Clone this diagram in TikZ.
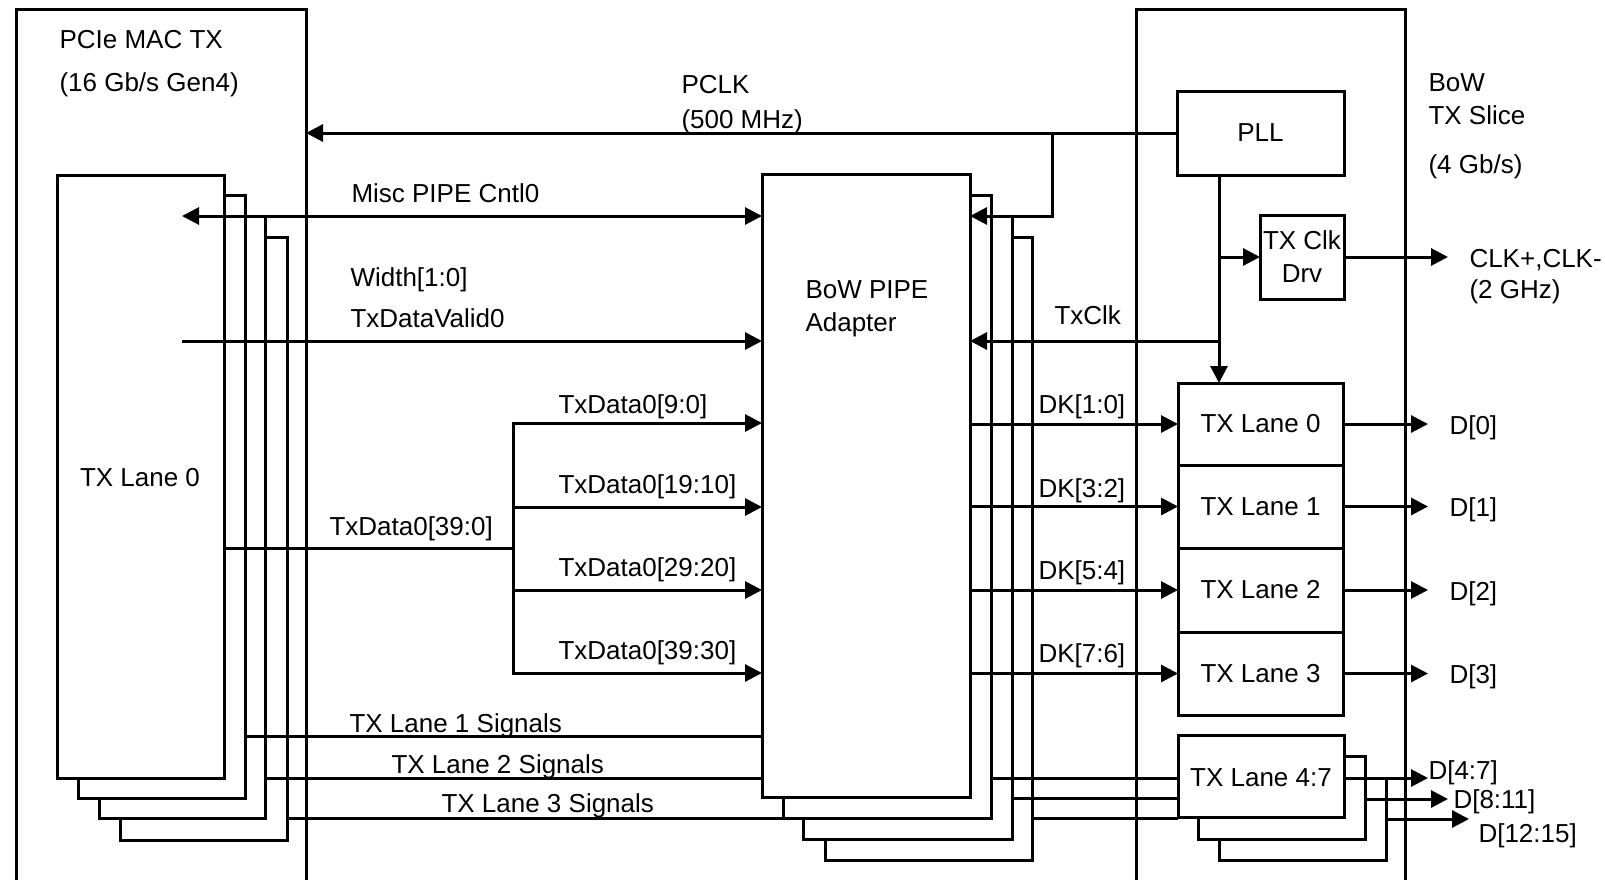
\documentclass[tikz,border=0pt]{standalone}
\usepackage{fontspec}
\setmainfont{Liberation Sans}
\usetikzlibrary{arrows.meta,fit}
\begin{document}
\begin{tikzpicture}[x=0.5pt,y=-0.5pt, line width=1.5pt,
  font=\fontsize{13pt}{15.6pt}\selectfont,
  blk/.style={draw, fill=white, inner sep=0pt, outer sep=0pt, line width=1.5pt},
  frame/.style={draw, inner sep=0pt, outer sep=0pt, line width=1.5pt},
  lbl/.style={inner sep=0pt, anchor=base west},
  ctr/.style={inner sep=0pt},
  arr/.style={-{Triangle[length=8.5pt,width=8.5pt]}},
  darr/.style={{Triangle[length=8.5pt,width=8.5pt]}-{Triangle[length=8.5pt,width=8.5pt]}}]
\useasboundingbox (0,0) rectangle (1605,879);

% ---------- PCIe MAC TX ----------
\node[frame, fit={(16,9) (306,895)}] (mac) {};
\node[lbl] (macl1) at (58,48) {PCIe MAC TX};
\node[lbl] (macl2) at (58,91) {(16 Gb/s Gen4)};
\node[blk, fit={(120,237) (287,840)}] (m3) {};
\node[blk, fit={(99,216) (265,818)}] (m2) {};
\node[blk, fit={(78,195) (245,798)}] (m1) {};
\node[blk, fit={(57,175) (224,778)}] (m0) {};
\node[lbl, anchor=base] (m0l) at (140,486) {TX Lane 0};

% ---------- BoW PIPE Adapter ----------
\node[blk, fit={(825,237) (1032,860)}] (p3) {};
\node[blk, fit={(803,216) (1012,839)}] (p2) {};
\node[blk, fit={(783,195) (991,818)}] (p1) {};
\node[blk, fit={(762,174) (970,797)}] (pipe) {};
\node[lbl] (pipel1) at (804,298) {BoW PIPE};
\node[lbl] (pipel2) at (804,331) {Adapter};

% ---------- BoW TX Slice ----------
\node[frame, fit={(1136,9) (1405,895)}] (bow) {};
\node[lbl] (bowl1) at (1427,91) {BoW};
\node[lbl] (bowl2) at (1427,124) {TX Slice};
\node[lbl] (bowl3) at (1427,173) {(4 Gb/s)};
\node[blk, fit={(1177,91) (1344,175)}] (pll) {};
\node[ctr] (plll) at (pll.center) {PLL};
\node[blk, fit={(1260,215) (1344,299)}] (drv) {};
\node[ctr, align=center, font=\fontsize{13pt}{16.5pt}\selectfont] (drvl) at (drv.center) {TX Clk\\Drv};
\node[blk, fit={(1178,383) (1343,465)}] (t0) {};
\node[blk, fit={(1178,465) (1343,548)}] (t1) {};
\node[blk, fit={(1178,548) (1343,632)}] (t2) {};
\node[blk, fit={(1178,632) (1343,715)}] (t3) {};
\node[ctr] (t0l) at (t0.center) {TX Lane 0};
\node[ctr] (t1l) at (t1.center) {TX Lane 1};
\node[ctr] (t2l) at (t2.center) {TX Lane 2};
\node[ctr] (t3l) at (t3.center) {TX Lane 3};
\node[blk, fit={(1219,778) (1386,860)}] (q2) {};
\node[blk, fit={(1198,756) (1365,839)}] (q1) {};
\node[blk, fit={(1178,735) (1344,817)}] (q0) {};
\node[ctr] (q0l) at ([yshift=-1pt]q0.center) {TX Lane 4:7};

% ---------- PCLK ----------
\draw[arr] (pll.west) -- (pll.west -| mac.east);
\node[lbl] (pclk1) at (680,93) {PCLK};
\node[lbl] (pclk2) at (680,128) {(500 MHz)};
\coordinate (pb) at (1052,133);
\coordinate (pbt) at (1052,216);
\draw[arr] (pb) -- (pbt) -- (pbt -| pipe.east);

% ---------- Misc / Valid ----------
\coordinate (misc) at (182,216);
\draw[darr] (misc) -- (misc -| pipe.west);
\node[lbl] (miscl) at (350,202) {Misc PIPE Cntl0};
\coordinate (valid) at (182,341);
\draw[arr] (valid) -- (valid -| pipe.west);
\node[lbl] (widthl) at (349,286) {Width[1:0]};
\node[lbl] (validl) at (349,327) {TxDataValid0};

% ---------- TxData fan ----------
\coordinate (fan) at (513,548);
\coordinate (f0) at (513,423);
\coordinate (f1) at (513,507);
\coordinate (f2) at (513,590);
\coordinate (f3) at (513,673);
\draw (fan -| m0.east) -- (fan);
\draw[line cap=rect] (f0) -- (f3);
\draw[arr] (f0) -- (f0 -| pipe.west);
\draw[arr] (f1) -- (f1 -| pipe.west);
\draw[arr] (f2) -- (f2 -| pipe.west);
\draw[arr] (f3) -- (f3 -| pipe.west);
\node[lbl] (fanl) at (328,535) {TxData0[39:0]};
\node[lbl] (f0l) at (557,413) {TxData0[9:0]};
\node[lbl] (f1l) at (557,493) {TxData0[19:10]};
\node[lbl] (f2l) at (557,576) {TxData0[29:20]};
\node[lbl] (f3l) at (557,659) {TxData0[39:30]};

% ---------- PLL distribution ----------
\coordinate (pd) at (1219,175);
\draw[arr] (pd) -- (pd |- t0.north);
\coordinate (ck) at (1219,341);
\draw[arr] (ck) -- (ck -| pipe.east);
\node[lbl] (ckl) at (1053,324) {TxClk};
\draw[arr] (drv.west -| pd) -- (drv.west);
\coordinate (clko) at (1448,257);
\draw[arr] (drv.east) -- (clko);
\node[lbl] (clkl1) at (1468,267) {CLK+,CLK-};
\node[lbl] (clkl2) at (1468,298) {(2 GHz)};

% ---------- DK lines ----------
\draw[arr] (t0.west -| pipe.east) -- (t0.west);
\draw[arr] (t1.west -| pipe.east) -- (t1.west);
\draw[arr] (t2.west -| pipe.east) -- (t2.west);
\draw[arr] (t3.west -| pipe.east) -- (t3.west);
\node[lbl] (dk0) at (1037,413) {DK[1:0]};
\node[lbl] (dk1) at (1037,497) {DK[3:2]};
\node[lbl] (dk2) at (1037,579) {DK[5:4]};
\node[lbl] (dk3) at (1037,662) {DK[7:6]};

% ---------- D outputs ----------
\coordinate (dx) at (1428,0);
\draw[arr] (t0.east) -- (t0.east -| dx);
\draw[arr] (t1.east) -- (t1.east -| dx);
\draw[arr] (t2.east) -- (t2.east -| dx);
\draw[arr] (t3.east) -- (t3.east -| dx);
\node[lbl] (d0l) at (1448,434) {D[0]};
\node[lbl] (d1l) at (1448,516) {D[1]};
\node[lbl] (d2l) at (1448,600) {D[2]};
\node[lbl] (d3l) at (1448,683) {D[3]};

% ---------- Lane signals ----------
\coordinate (s1) at (0,736);
\coordinate (s2) at (0,778);
\coordinate (s3) at (0,818);
\draw (s1 -| m1.east) -- (s1 -| pipe.west);
\draw (s2 -| m2.east) -- (s2 -| pipe.west);
\draw (s3 -| m3.east) -- (s3 -| p1.west);
\node[lbl] (s1l) at (348,732) {TX Lane 1 Signals};
\node[lbl] (s2l) at (390,773) {TX Lane 2 Signals};
\node[lbl] (s3l) at (440,812) {TX Lane 3 Signals};
\coordinate (r1) at (0,778);
\coordinate (r2) at (0,798);
\coordinate (r3) at (0,818);
\draw (r1 -| p1.east) -- (r1 -| q0.west);
\draw (r2 -| p2.east) -- (r2 -| q0.west);
\draw (r3 -| p3.east) -- (r3 -| q0.west);

\coordinate (o1) at (1428,778);
\coordinate (o2) at (1448,799);
\coordinate (o3) at (1469,819);
\draw[arr] (o1 -| q0.east) -- (o1);
\draw[arr] (o2 -| q1.east) -- (o2);
\draw[arr] (o3 -| q2.east) -- (o3);
\node[lbl] (o1l) at (1427,779) {D[4:7]};
\node[lbl] (o2l) at (1452,808) {D[8:11]};
\node[lbl] (o3l) at (1477,842) {D[12:15]};
\end{tikzpicture}
\end{document}
